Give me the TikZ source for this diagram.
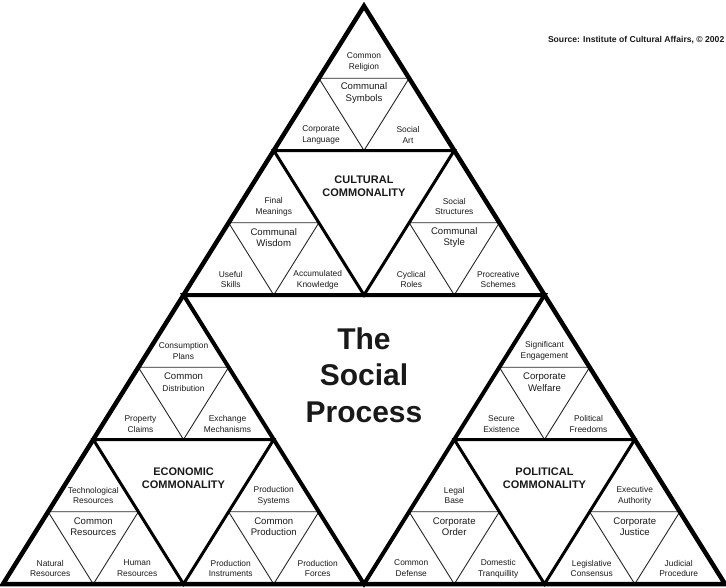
\documentclass[tikz,border=0pt]{standalone}
\usepackage{fontspec}
\setmainfont{Liberation Sans}
\usetikzlibrary{calc}
\definecolor{ink}{RGB}{25,25,25}

\begin{document}
\begin{tikzpicture}[
  x=1pt, y=-1pt,
  every node/.style={text=ink, inner sep=0pt},
  leaf/.style={align=center, font=\fontsize{8.4}{10.8}\selectfont},
  core/.style={align=center, font=\fontsize{9.6}{11.6}\selectfont},
  heading/.style={align=center, font=\bfseries\fontsize{11}{13}\selectfont},
  title/.style={align=center, font=\bfseries\fontsize{30}{36.5}\selectfont},
  outer/.style={draw=black, line width=4.5pt, line join=miter},
  inner/.style={draw=black, line width=4pt, line join=miter},
  ring/.style={draw=black, line width=3pt, line join=miter},
  cell/.style={draw=black!85, line width=0.9pt}
]
\useasboundingbox (0,0) rectangle (726,587);

\coordinate (apex) at (364,6);
\coordinate (bl) at (3,584);
\coordinate (br) at (725,584);
\coordinate (t1) at (364,6);
\coordinate (t2) at (273.75,150.5);
\coordinate (t3) at (454.25,150.5);
\coordinate (l1) at (183.5,295);
\coordinate (l2) at (93.25,439.5);
\coordinate (l3) at (273.75,439.5);
\coordinate (r1) at (544.5,295);
\coordinate (r2) at (454.25,439.5);
\coordinate (r3) at (634.75,439.5);
\coordinate (cm) at (364,295);
\coordinate (bm) at (364,584);
\coordinate (lm) at (183.5,584);
\coordinate (rm) at (544.5,584);

\draw[cell] (t1) ++(-45.125,72.25) -- ++(90.25,0) -- ++(-45.125,72.25) -- cycle;
\draw[cell] (t2) ++(-45.125,72.25) -- ++(90.25,0) -- ++(-45.125,72.25) -- cycle;
\draw[cell] (t3) ++(-45.125,72.25) -- ++(90.25,0) -- ++(-45.125,72.25) -- cycle;
\draw[cell] (l1) ++(-45.125,72.25) -- ++(90.25,0) -- ++(-45.125,72.25) -- cycle;
\draw[cell] (l2) ++(-45.125,72.25) -- ++(90.25,0) -- ++(-45.125,72.25) -- cycle;
\draw[cell] (l3) ++(-45.125,72.25) -- ++(90.25,0) -- ++(-45.125,72.25) -- cycle;
\draw[cell] (r1) ++(-45.125,72.25) -- ++(90.25,0) -- ++(-45.125,72.25) -- cycle;
\draw[cell] (r2) ++(-45.125,72.25) -- ++(90.25,0) -- ++(-45.125,72.25) -- cycle;
\draw[cell] (r3) ++(-45.125,72.25) -- ++(90.25,0) -- ++(-45.125,72.25) -- cycle;

\draw[ring] (t2) -- (t3) -- (cm) -- cycle;
\draw[ring] (l2) -- (l3) -- (lm) -- cycle;
\draw[ring] (r2) -- (r3) -- (rm) -- cycle;
\draw[inner] (l1) -- (r1) -- (bm) -- cycle;
\draw[outer] (apex) -- (bl) -- (br) -- cycle;

\node[title] (social) at (364,375) {The\\Social\\Process};
\node[heading] (cultural) at (364,186) {CULTURAL\\COMMONALITY};
\node[heading] (economic) at (183.5,478) {ECONOMIC\\COMMONALITY};
\node[heading] (political) at (544.5,478) {POLITICAL\\COMMONALITY};
\node[anchor=east, font=\bfseries\fontsize{8.6}{10}\selectfont] (source) at (724.5,40)
  {Source: Institute of Cultural Affairs, \textcopyright{} 2002};

\node[leaf] (t1top) at ($(t1)+(0,56)$) {Common\\Religion};
\node[core] (t1mid) at ($(t1)+(0,87)$) {Communal\\Symbols};
\node[leaf] (t1l) at ($(t1)+(-43,129)$) {Corporate\\Language};
\node[leaf] (t1r) at ($(t1)+(44,129)$) {Social\\Art};

\node[leaf] (t2top) at ($(t2)+(0,56)$) {Final\\Meanings};
\node[core] (t2mid) at ($(t2)+(0,87)$) {Communal\\Wisdom};
\node[leaf] (t2l) at ($(t2)+(-43,129)$) {Useful\\Skills};
\node[leaf] (t2r) at ($(t2)+(44,129)$) {Accumulated\\Knowledge};

\node[leaf] (t3top) at ($(t3)+(0,56)$) {Social\\Structures};
\node[core] (t3mid) at ($(t3)+(0,87)$) {Communal\\Style};
\node[leaf] (t3l) at ($(t3)+(-43,129)$) {Cyclical\\Roles};
\node[leaf] (t3r) at ($(t3)+(44,129)$) {Procreative\\Schemes};

\node[leaf] (l1top) at ($(l1)+(0,56)$) {Consumption\\Plans};
\node[core] (l1mid) at ($(l1)+(0,87)$) {Common\\{\fontsize{8.4}{10}\selectfont Distribution}};
\node[leaf] (l1l) at ($(l1)+(-43,129)$) {Property\\Claims};
\node[leaf] (l1r) at ($(l1)+(44,129)$) {Exchange\\Mechanisms};

\node[leaf] (l2top) at ($(l2)+(0,56)$) {Technological\\Resources};
\node[core] (l2mid) at ($(l2)+(0,87)$) {Common\\Resources};
\node[leaf] (l2l) at ($(l2)+(-43,129)$) {Natural\\Resources};
\node[leaf] (l2r) at ($(l2)+(44,129)$) {Human\\Resources};

\node[leaf] (l3top) at ($(l3)+(0,56)$) {Production\\Systems};
\node[core] (l3mid) at ($(l3)+(0,87)$) {Common\\Production};
\node[leaf] (l3l) at ($(l3)+(-43,129)$) {Production\\Instruments};
\node[leaf] (l3r) at ($(l3)+(44,129)$) {Production\\Forces};

\node[leaf] (r1top) at ($(r1)+(0,56)$) {Significant\\Engagement};
\node[core] (r1mid) at ($(r1)+(0,87)$) {Corporate\\Welfare};
\node[leaf] (r1l) at ($(r1)+(-43,129)$) {Secure\\Existence};
\node[leaf] (r1r) at ($(r1)+(44,129)$) {Political\\Freedoms};

\node[leaf] (r2top) at ($(r2)+(0,56)$) {Legal\\Base};
\node[core] (r2mid) at ($(r2)+(0,87)$) {Corporate\\Order};
\node[leaf] (r2l) at ($(r2)+(-43,129)$) {Common\\Defense};
\node[leaf] (r2r) at ($(r2)+(44,129)$) {Domestic\\Tranquillity};

\node[leaf] (r3top) at ($(r3)+(0,56)$) {Executive\\Authority};
\node[core] (r3mid) at ($(r3)+(0,87)$) {Corporate\\Justice};
\node[leaf] (r3l) at ($(r3)+(-43,129)$) {Legislative\\Consensus};
\node[leaf] (r3r) at ($(r3)+(44,129)$) {Judicial\\Procedure};
\end{tikzpicture}
\end{document}
